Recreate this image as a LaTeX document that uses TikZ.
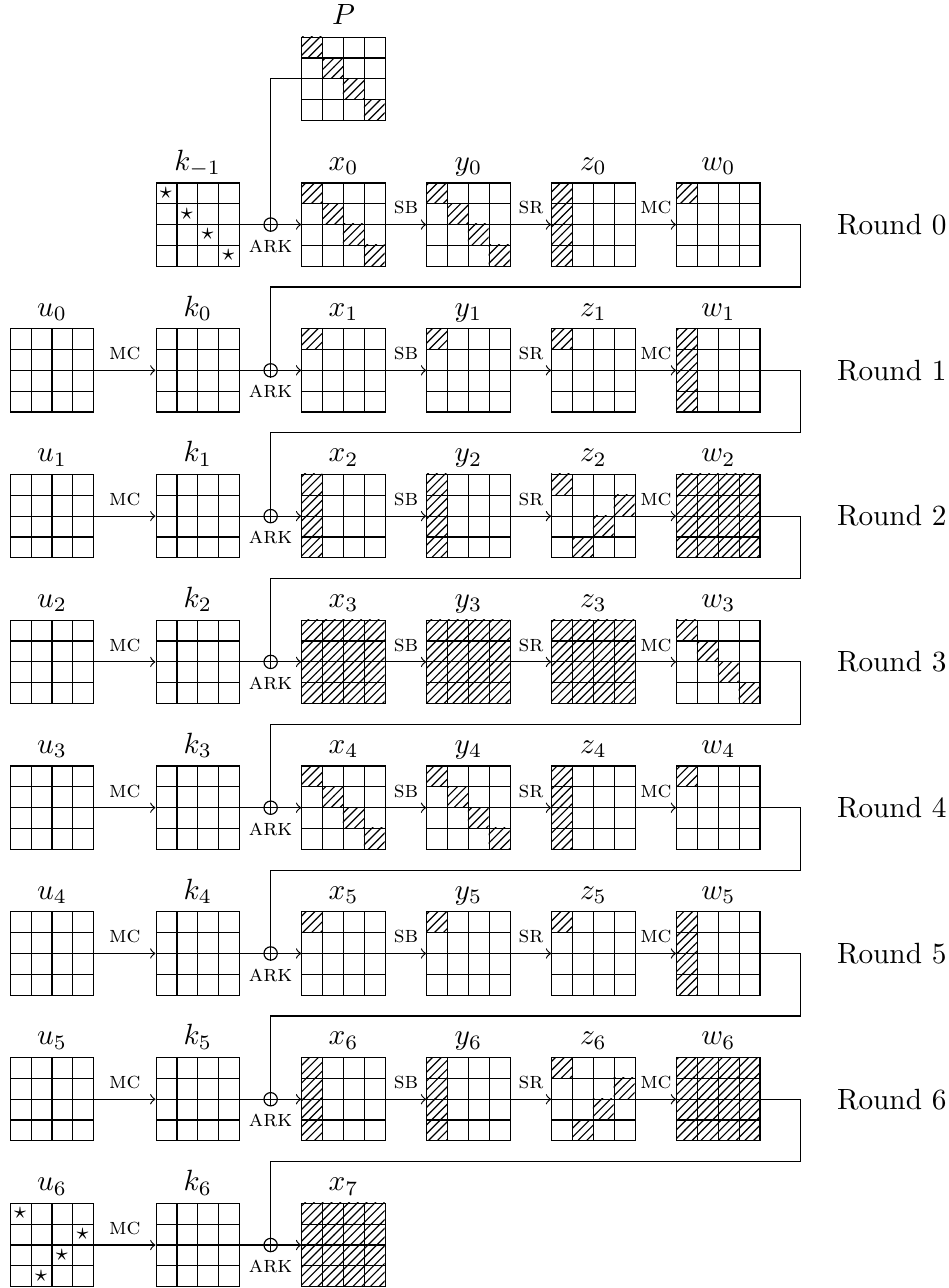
\documentclass[tikz,border=0pt]{standalone}
\usepackage{amsmath,amssymb}
\usepackage{tikz}
\usetikzlibrary{patterns,positioning}

\tikzset{
  cellgrid/.style={draw,minimum size=1cm,inner sep=0pt,
    path picture={\draw[step=0.25cm] (path picture bounding box.south west) grid (path picture bounding box.north east);}},
  xorop/.style={draw,circle,minimum size=0.16cm,inner sep=0pt},
  oplabel/.style={font=\footnotesize,above,inner sep=3.3pt},
  statename/.style={anchor=base},
}

\def\pone{0/0}
\def\pdiag{0/0,1/1,2/2,3/3}
\def\pcol{0/0,1/0,2/0,3/0}
\def\pmix{0/0,1/3,2/2,3/1}
\def\pall{0/0,0/1,0/2,0/3,1/0,1/1,1/2,1/3,2/0,2/1,2/2,2/3,3/0,3/1,3/2,3/3}

\newcommand{\hatchcells}[2]{%
  \foreach \ci/\cj in #2
    \fill[pattern=north east lines] ([shift={(\cj*0.25,-\ci*0.25)}]#1.north west) rectangle ++(0.25,-0.25);}
\newcommand{\starcells}[2]{%
  \foreach \ci/\cj in #2
    \node[font=\footnotesize,inner sep=0pt] (#1s\ci\cj) at ([shift={(\cj*0.25+0.125,-\ci*0.25-0.125)}]#1.north west) {$\star$};}

\begin{document}
\begin{tikzpicture}
  \useasboundingbox (-4.124,2.696) rectangle (7.257,-12.766);
  \node[cellgrid] (P) at (0,1.75) {};
    \node[statename] (lP) at ([yshift=0.145cm]P.north) {$P$};
  \node[cellgrid] (km1) at (-1.75,0) {};
    \node[statename] (lkm1) at ([yshift=0.145cm]km1.north) {$k_{-1}$};
  \foreach \r in {0,...,7} {
    \node[cellgrid] (x\r) at (0,-1.75*\r) {};
      \node[statename] (lx\r) at ([yshift=0.145cm]x\r.north) {$x_\r$};
    \node[xorop] (xor\r) at (-0.875,-1.75*\r) {};
    \node[font=\footnotesize,below,inner sep=2.5pt] (ark\r) at (xor\r.south) {\textsc{ark}};}
  \foreach \r in {0,...,6} {
    \node[cellgrid] (y\r) at (1.5,-1.75*\r) {};
      \node[statename] (ly\r) at ([yshift=0.145cm]y\r.north) {$y_\r$};
    \node[cellgrid] (z\r) at (3,-1.75*\r) {};
      \node[statename] (lz\r) at ([yshift=0.145cm]z\r.north) {$z_\r$};
    \node[cellgrid] (w\r) at (4.5,-1.75*\r) {};
      \node[statename] (lw\r) at ([yshift=0.145cm]w\r.north) {$w_\r$};
    \node[anchor=west] (rd\r) at (5.8,-1.75*\r) {Round \r};
    \draw[->] (x\r.east) -- node[oplabel] (sb\r) {\textsc{sb}} (y\r.west);
    \draw[->] (y\r.east) -- node[oplabel] (sr\r) {\textsc{sr}} (z\r.west);
    \draw[->] (z\r.east) -- node[oplabel] (mc\r) {\textsc{mc}} (w\r.west);}
  \foreach \r [count=\p from 0] in {1,...,7} {
    \node[cellgrid] (u\p) at (-3.5,-1.75*\r) {};
      \node[statename] (lu\p) at ([yshift=0.145cm]u\p.north) {$u_\p$};
    \node[cellgrid] (k\p) at (-1.75,-1.75*\r) {};
      \node[statename] (lk\p) at ([yshift=0.145cm]k\p.north) {$k_\p$};
    \draw[->] (u\p.east) -- node[oplabel] (mcu\p) {\textsc{mc}} (k\p.west);
    \draw[->] (k\p.east) -- (x\r.west);
    \draw (w\p.east) -- ++(0.48,0) -- ++(0,-0.75) -| (xor\r.south);}
  \draw[->] (km1.east) -- (x0.west);
  \draw (P.west) -| (xor0.south);
  % active bytes
  \hatchcells{P}{\pdiag}
  \foreach \r in {0,4} {
    \hatchcells{x\r}{\pdiag} \hatchcells{y\r}{\pdiag}
    \hatchcells{z\r}{\pcol} \hatchcells{w\r}{\pone}}
  \foreach \r in {1,5} {
    \hatchcells{x\r}{\pone} \hatchcells{y\r}{\pone}
    \hatchcells{z\r}{\pone} \hatchcells{w\r}{\pcol}}
  \foreach \r in {2,6} {
    \hatchcells{x\r}{\pcol} \hatchcells{y\r}{\pcol}
    \hatchcells{z\r}{\pmix} \hatchcells{w\r}{\pall}}
  \hatchcells{x3}{\pall} \hatchcells{y3}{\pall}
  \hatchcells{z3}{\pall} \hatchcells{w3}{\pdiag}
  \hatchcells{x7}{\pall}
  % guessed bytes
  \starcells{km1}{\pdiag}
  \starcells{u6}{\pmix}
\end{tikzpicture}
\end{document}
